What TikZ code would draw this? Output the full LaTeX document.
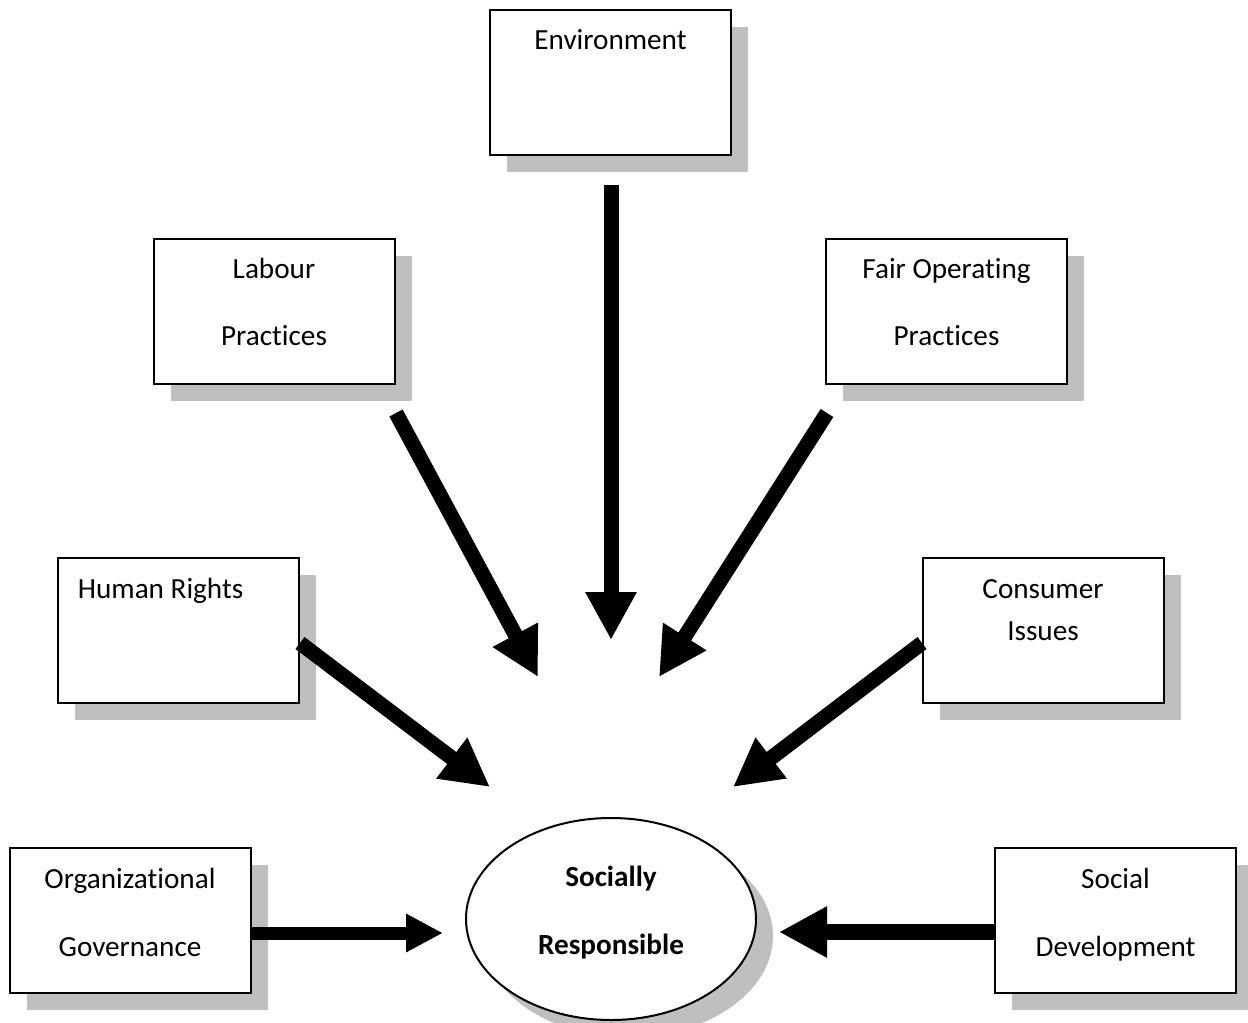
\documentclass[tikz,border=0pt]{standalone}
\usepackage{fontspec}
\setmainfont[RawFeature={-liga;-clig;-calt}]{Carlito}
\usetikzlibrary{arrows.meta,shadows,shapes.geometric,calc}
\begin{document}
\begin{tikzpicture}[x=0.5pt, y=-0.5pt,
    box/.style={rectangle, draw, line width=1pt, fill=white, minimum width=120.5pt, minimum height=72.5pt,
      drop shadow={shadow xshift=8.5pt, shadow yshift=-8.5pt, fill=black!25, opacity=1}},
    txt/.style={anchor=base, inner sep=0pt, font=\fontsize{14.6}{17}\selectfont},
    push/.style={line width=7.5pt, -{Triangle[length=24pt, width=24pt]}}]
          \useasboundingbox (0,0) rectangle (1248,1023);

          \node[box] (env) at (610.5,82.5) {};
          \node[box] (lab) at (274,311) {};
          \node[box] (fair) at (946.5,311) {};
          \node[box] (hum) at (178,630.5) {};
          \node[box] (cons) at (1043,630.5) {};
          \node[box] (org) at (130,920) {};
          \node[box] (soc) at (1115.5,920) {};
          \node[ellipse, draw, line width=1pt, fill=white, inner sep=0pt, minimum width=145pt, minimum height=101pt,
            drop shadow={shadow xshift=8.5pt, shadow yshift=-8.5pt, fill=black!25, opacity=1}] (sr) at (611,919) {};

          \node[txt] (envT) at ($(env.north)+(0,40)$) {Environment};
          \node[txt] (labT) at ($(lab.north)+(0,41)$) {Labour};
          \node[txt] (labB) at ($(lab.north)+(0,108)$) {Practices};
          \node[txt] (fairT) at ($(fair.north)+(0,41)$) {Fair Operating};
          \node[txt] (fairB) at ($(fair.north)+(0,108)$) {Practices};
          \node[txt, anchor=base west] (humT) at ($(hum.north west)+(21,41)$) {Human Rights};
          \node[txt] (consT) at ($(cons.north)+(0,41)$) {Consumer};
          \node[txt] (consB) at ($(cons.north)+(0,83)$) {Issues};
          \node[txt] (orgT) at ($(org.north)+(0,42)$) {Organizational};
          \node[txt] (orgB) at ($(org.north)+(0,110)$) {Governance};
          \node[txt] (socT) at ($(soc.north)+(0,42)$) {Social};
          \node[txt] (socB) at ($(soc.north)+(0,110)$) {Development};
          \node[txt, font=\fontsize{14.6}{17}\selectfont\bfseries] (srT) at ($(sr.center)+(0,-33)$) {Socially};
          \node[txt, font=\fontsize{14.6}{17}\selectfont\bfseries] (srB) at ($(sr.center)+(0,35)$) {Responsible};

          \coordinate (envA) at (611,185);   \coordinate (envZ) at (611,640);
          \coordinate (labA) at (396,413);   \coordinate (labZ) at (538,677);
          \coordinate (fairA) at (827,413);  \coordinate (fairZ) at (659,677);
          \coordinate (humA) at (300,643);   \coordinate (humZ) at (490,787);
          \coordinate (consA) at (922,643);  \coordinate (consZ) at (733,787);
          \coordinate (orgZ) at (443,933);
          \coordinate (socZ) at (779,932);

          \draw[push] (envA) -- (envZ);
          \draw[push] (labA) -- (labZ);
          \draw[push] (fairA) -- (fairZ);
          \draw[push] (humA) -- (humZ);
          \draw[push] (consA) -- (consZ);
          \draw[push, line width=6.5pt, -{Triangle[length=18.5pt, width=18pt]}] (org.east |- orgZ) -- (orgZ);
          \draw[push, line width=8pt] (soc.west |- socZ) -- (socZ);
        \end{tikzpicture}
\end{document}
